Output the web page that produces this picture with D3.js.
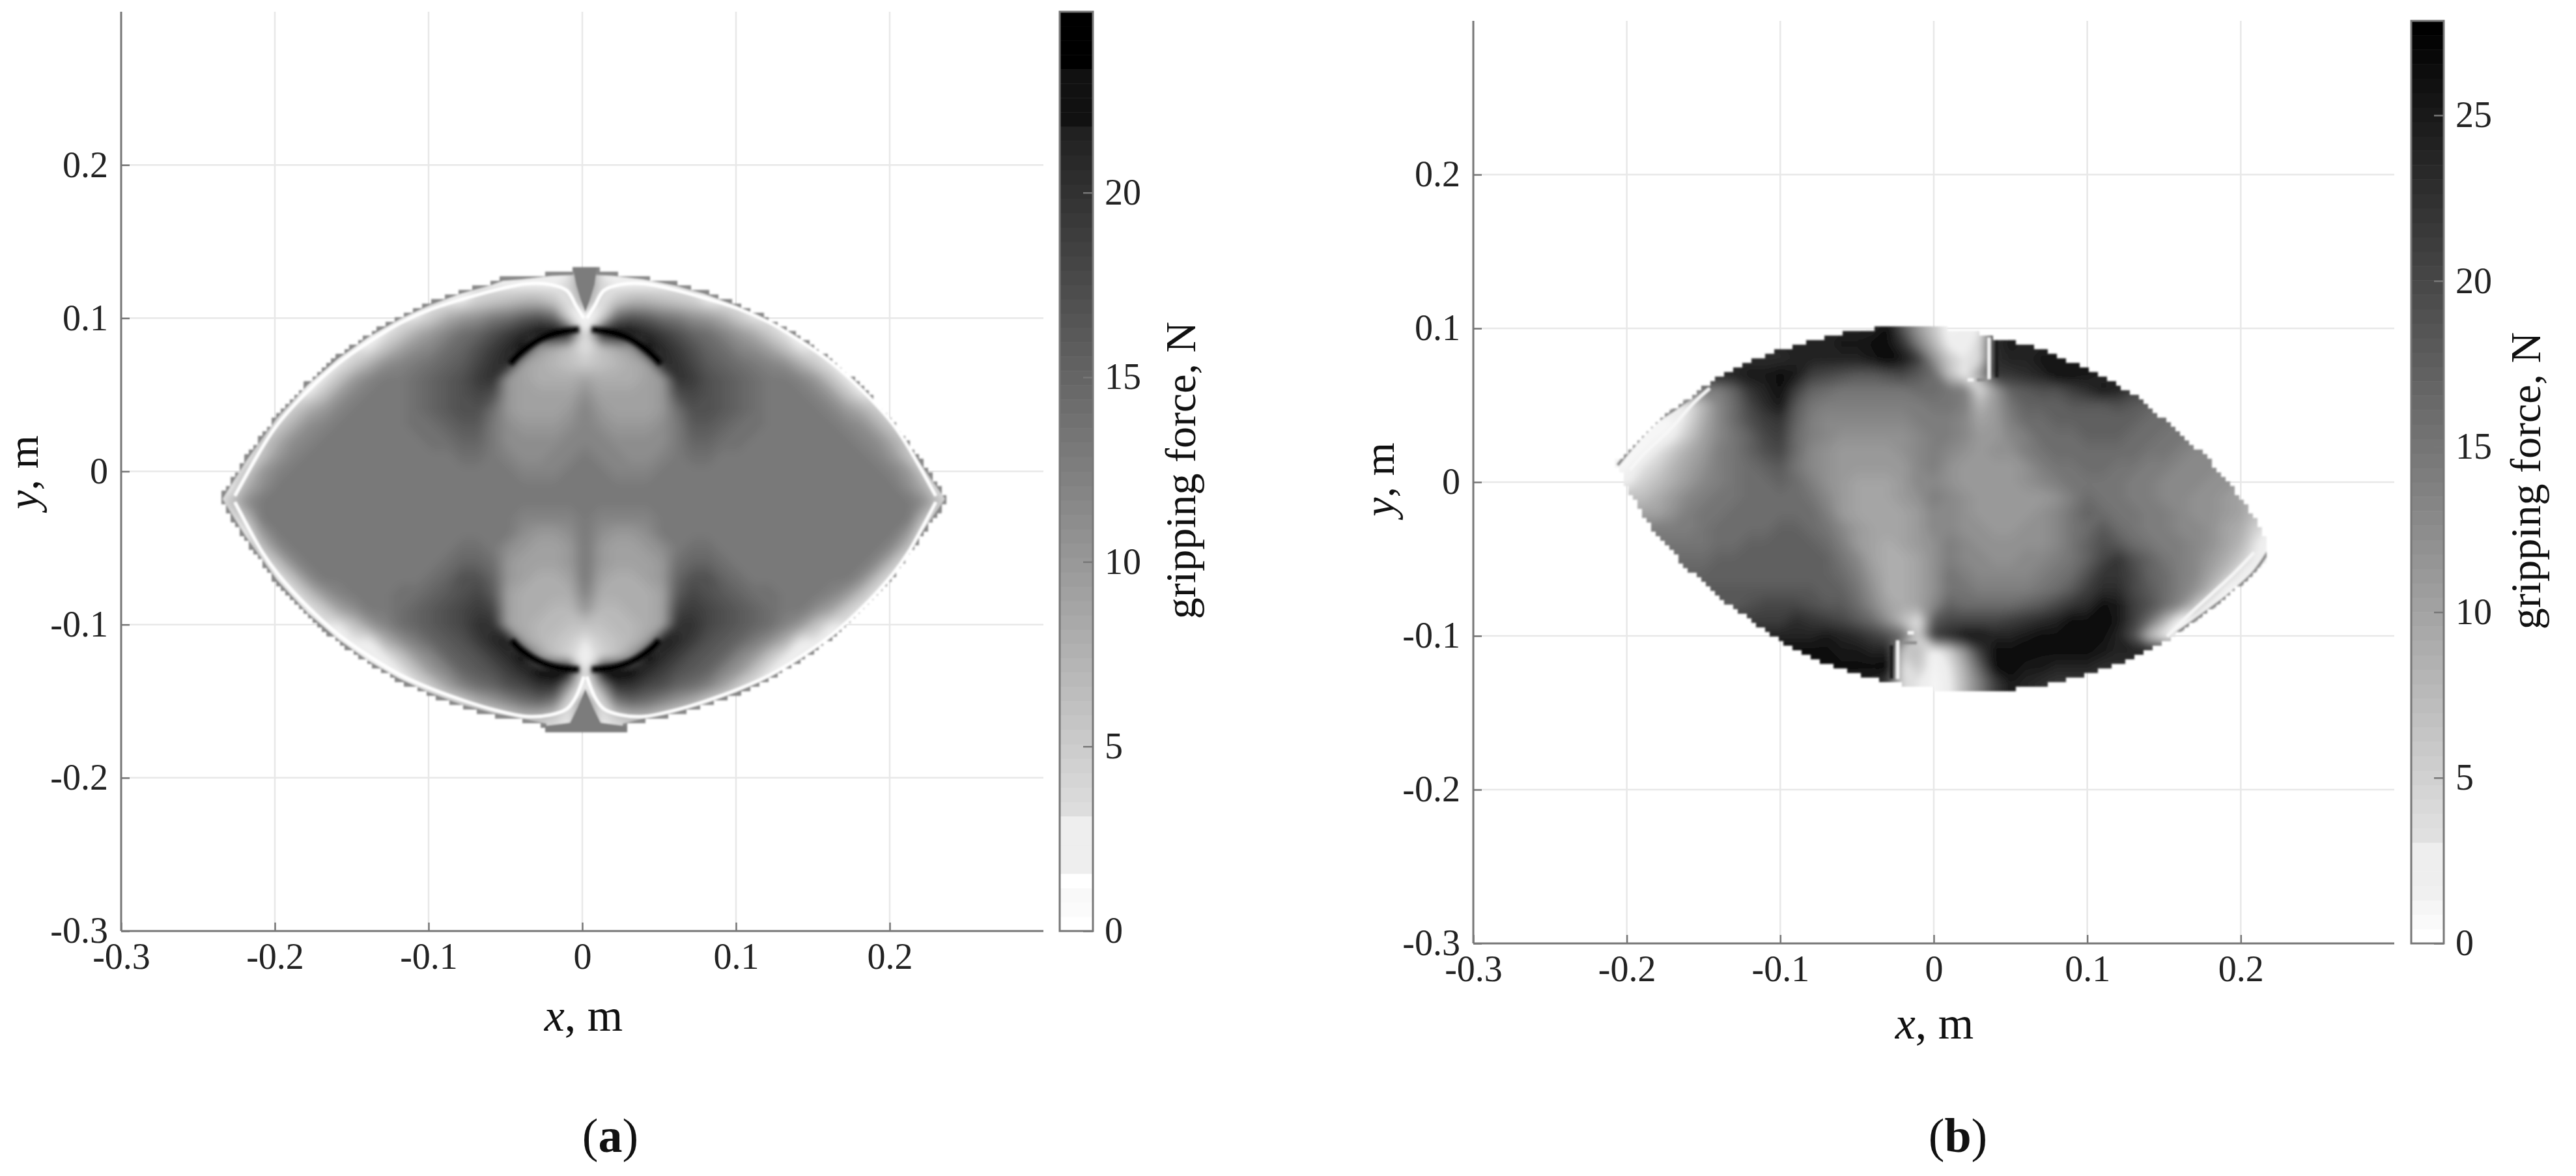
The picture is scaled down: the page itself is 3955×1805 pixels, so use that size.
<!DOCTYPE html>
<html><head><meta charset="utf-8">
<style>html,body{margin:0;padding:0;background:#fff}svg{display:block}</style>
<script src="https://cdnjs.cloudflare.com/ajax/libs/d3/7.8.5/d3.min.js"></script>
</head><body><svg id="c" width="3955" height="1805"></svg>
<script>
// ---------- tick labels ----------
const axisTicks=[-0.3,-0.2,-0.1,0,0.1,0.2];
const axisTickLabels=['-0.3','-0.2','-0.1','0','0.1','0.2'];
const cbarTicksA=[0,5,10,15,20];
const cbarTicksB=[0,5,10,15,20,25];
const maxA=24.9, maxB=27.85;
// ---------- colour bar levels (grey, bottom to top) ----------
const levelsA=[255,251,249,255,238,238,238,238,221,217,213,209,205,201,197,193,189,185,181,177,173,169,165,161,157,153,149,145,141,137,133,129,125,121,117,113,109,105,101,97,93,89,85,81,77,73,69,65,61,57,53,49,45,41,37,33,17,17,17,17,0,0,0,0];
const levelsB=[255,250,246,240,238,238,238,224,221,217,213,209,205,201,197,193,189,185,181,177,173,169,165,161,157,153,149,145,141,137,133,129,125,121,117,113,109,105,101,97,93,89,85,81,77,73,69,65,61,57,53,49,45,41,37,33,29,25,21,17,13,8,4,0];
// ---------- panel (a): force on a 0.01 m grid, x = 0 .. 0.24, y = 0.14 .. -0.18 (left half mirrors) ----------
const forceHalfA=[
[12,3,3,3,3,3,3,3,3,3,3,3,3,3,3,3,3,3,3,3,3,3,3,3,3],
[12,3,3,3,3,3,3,3,3,3,3,3,3,3,3,3,3,3,3,3,3,3,3,3,3],
[12,4,3,3,3,3,3,3,3,3,3,3,3,3,3,3,3,3,3,3,3,3,3,3,3],
[8,3,6,8,8,7,6,5,3,3,3,3,3,3,3,3,3,3,3,3,3,3,3,3,3],
[1,4,15,17,16,14,13,11,10,8,5,3,3,3,3,3,3,3,3,3,3,3,3,3,3],
[2,21,24,23,21,19,17,15,14,12,10,8,5,3,3,3,3,3,3,3,3,3,3,3,3],
[3,6,8,10,23,21,19,17,15,14,12,11,9,6,3,3,3,3,3,3,3,3,3,3,3],
[5,6,7,8,9,21,20,18,16,15,14,13,12,11,8,5,3,3,3,3,3,3,3,3,3],
[9,8,8,8,9,10,20,19,17,16,15,14,13,13,12,10,6,3,3,3,3,3,3,3,3],
[11,9,9,9,9,10,17,18,17,16,15,14,13,13,13,12,10,6,3,3,3,3,3,3,3],
[12,10,9,9,9,10,14,17,17,16,15,14,13,13,13,13,12,10,8,5,3,3,3,3,3],
[12,11,10,10,10,11,13,16,16,15,14,14,13,13,13,13,13,12,11,8,5,3,3,3,3],
[12,12,11,11,11,11,13,15,15,14,14,13,13,13,13,13,13,13,12,11,8,5,3,3,3],
[13,12,12,11,11,12,13,14,14,13,13,13,13,13,13,13,13,13,13,12,10,6,3,3,3],
[13,13,12,12,12,13,13,13,13,13,13,13,13,13,13,13,13,13,13,13,12,10,5,3,3],
[13,13,13,13,13,13,13,13,13,13,13,13,13,13,13,13,13,13,13,13,13,11,8,3,3],
[13,13,13,13,13,13,13,13,13,13,13,13,13,13,13,13,13,13,13,13,13,13,11,6,3],
[13,12,12,12,12,13,13,13,13,13,13,13,13,13,13,13,13,13,13,13,13,13,7,3,3],
[13,11,10,10,11,13,13,13,13,13,13,13,13,13,13,13,13,13,13,13,13,10,3,3,3],
[13,10,9,9,10,11,13,14,14,13,13,13,13,13,13,13,13,13,13,13,11,6,3,3,3],
[13,10,9,9,9,10,14,15,15,14,13,13,13,13,13,13,13,13,13,11,6,3,3,3,3],
[13,9,8,8,9,10,15,17,17,15,14,13,13,13,13,13,13,13,11,6,3,3,3,3,3],
[12,8,8,8,8,9,16,18,17,16,15,14,14,13,13,13,12,10,6,3,3,3,3,3,3],
[10,7,7,8,8,9,18,19,18,17,16,15,14,13,13,11,9,5,3,3,3,3,3,3,3],
[6,6,7,7,8,9,20,20,18,17,16,15,14,12,10,6,3,3,3,3,3,3,3,3,3],
[3,5,6,7,9,22,21,19,17,16,15,13,11,8,3,3,3,3,3,3,3,3,3,3,3],
[2,4,6,10,23,21,19,17,16,15,12,10,6,3,3,3,3,3,3,3,3,3,3,3,3],
[1,23,24,23,21,19,17,16,15,12,10,6,3,3,3,3,3,3,3,3,3,3,3,3,3],
[1,10,20,20,18,17,15,14,12,9,5,3,3,3,3,3,3,3,3,3,3,3,3,3,3],
[10,3,13,15,14,12,10,8,5,3,3,3,3,3,3,3,3,3,3,3,3,3,3,3,3],
[13,3,5,7,7,5,3,3,3,3,3,3,3,3,3,3,3,3,3,3,3,3,3,3,3],
[13,3,3,3,3,3,3,3,3,3,3,3,3,3,3,3,3,3,3,3,3,3,3,3,3],
[13,3,3,3,3,3,3,3,3,3,3,3,3,3,3,3,3,3,3,3,3,3,3,3,3]];
const forceA=forceHalfA.map(r=>[...r.slice(1).reverse(),...r]);
const outlineA=[[-.236,-.018],[-.22,.0077],[-.2,.0356],[-.18,.0573],[-.16,.0747],[-.14,.089],[-.12,.1006],[-.1,.1099],[-.08,.1174],[-.06,.123],[-.052,.126],[-.04,.1269],[-.02,.1293],[-.0075,.1297],[-.0075,.133],[.0107,.133],[.0107,.1297],[.02,.1293],[.04,.1269],[.06,.123],[.08,.1174],[.1,.1099],[.12,.1006],[.14,.089],[.16,.0747],[.18,.0573],[.2,.0356],[.22,.0077],[.238,-.018],[.22,-.0437],[.2,-.0716],[.18,-.0933],[.16,-.1107],[.14,-.125],[.12,-.1366],[.1,-.1459],[.08,-.1534],[.06,-.159],[.04,-.1629],[.028,-.166],[.028,-.169],[-.025,-.169],[-.025,-.166],[-.04,-.1629],[-.06,-.159],[-.08,-.1534],[-.1,-.1459],[-.12,-.1366],[-.14,-.125],[-.16,-.1107],[-.18,-.0933],[-.2,-.0716],[-.22,-.0437]];
const rimTopRightA=[[.23,-.016],[.212,.016],[.202,.031],[.182,.053],[.162,.071],[.142,.085],[.122,.097],[.102,.106],[.08,.113],[.06,.1185],[.04,.1225],[.025,.122],[.014,.118],[.008,.108],[.003,.1]];
const rimTopLeftA=[[-.226,-.016],[-.208,.016],[-.198,.031],[-.178,.053],[-.158,.071],[-.138,.085],[-.118,.097],[-.098,.106],[-.076,.113],[-.056,.1185],[-.036,.1225],[-.021,.122],[-.01,.118],[-.004,.108],[.001,.1]];
const rimBotRightA=[[.23,-.02],[.212,-.053],[.202,-.067],[.182,-.089],[.162,-.107],[.142,-.121],[.122,-.133],[.102,-.142],[.08,-.15],[.06,-.156],[.04,-.16],[.025,-.159],[.014,-.155],[.008,-.147],[.003,-.134]];
const rimBotLeftA=[[-.226,-.02],[-.208,-.053],[-.198,-.067],[-.178,-.089],[-.158,-.107],[-.138,-.121],[-.118,-.133],[-.098,-.142],[-.076,-.15],[-.056,-.156],[-.036,-.16],[-.021,-.159],[-.01,-.155],[-.004,-.147],[.001,-.134]];
const wedgeTopA=[[-.007,.136],[.01,.136],[.008,.122],[.005,.112],[.002,.104],[-.001,.112],[-.004,.122]];
const wedgeBotA=[[-.027,-.172],[.03,-.172],[.03,-.1665],[.012,-.164],[.007,-.154],[.002,-.142],[-.003,-.154],[-.008,-.164],[-.027,-.1665]];
const arcsA=[[[.006,.0927],[.02,.0905],[.032,.086],[.045,.0765],[.051,.07]],[[-.002,.0927],[-.016,.0905],[-.028,.086],[-.041,.0765],[-.047,.07]],[[.006,-.1293],[.02,-.128],[.032,-.124],[.045,-.1155],[.05,-.11]],[[-.002,-.1293],[-.016,-.128],[-.028,-.124],[-.041,-.1155],[-.046,-.11]]];
// ---------- panel (b): force on a 0.01 m grid, x = -0.21 .. 0.22, y = 0.11 .. -0.14 ----------
const forceB=[
[24,24,24,24,24,24,24,24,24,24,24,24,24,24,24,24,24,24,24,18,11,6,1,1,2,20,24,24,24,24,24,24,24,24,24,24,24,24,24,24,24,24,24,24],
[24,24,24,24,24,24,24,24,24,24,24,24,24,24,24,24,24,24,26,18,11,6,1,2,3,20,24,24,24,24,24,24,24,24,24,24,24,24,24,24,24,24,24,24],
[24,24,24,24,24,24,24,24,24,24,24,24,24,24,24,25,25,26,26,22,14,8,2,2,4,23,25,24,24,24,24,24,24,24,24,24,24,24,24,24,24,24,24,24],
[23,23,23,23,23,23,23,23,23,23,23,23,24,24,24,24,24,25,27,25,21,12,6,3,4,23,24,24,25,25,25,25,25,25,25,25,25,25,25,25,25,25,25,25],
[24,24,24,24,24,24,24,24,24,25,25,26,25,21,20,19,18,18,19,20,18,16,7,2,11,22,22,23,24,26,26,25,24,24,24,24,24,24,24,24,24,24,24,24],
[14,14,14,14,14,14,14,14,17,22,24,26,21,17,16,15,15,15,15,15,16,16,15,14,4,11,17,18,19,19,21,23,25,24,21,20,20,20,20,20,20,20,20,20],
[3,3,3,3,3,3,8,13,16,20,23,25,18,15,14,14,14,14,14,14,14,15,15,14,8,11,15,17,17,17,18,18,18,19,18,17,16,16,16,16,16,16,16,16],
[1,1,1,1,1,4,9,13,16,19,21,22,17,14,13,13,13,13,13,13,14,14,14,13,10,11,14,16,16,17,17,17,17,17,17,16,16,15,15,15,15,15,15,15],
[1,1,1,1,2,6,10,13,15,17,20,21,16,14,13,12,12,12,12,12,13,14,14,13,11,11,13,14,16,16,16,17,17,17,16,16,15,15,14,14,14,14,14,14],
[1,1,1,3,6,9,11,14,15,17,19,20,16,13,12,11,11,11,11,12,13,14,13,12,11,12,12,14,15,16,16,16,16,16,16,15,15,14,13,13,13,13,13,13],
[1,1,3,5,8,10,12,14,15,16,17,18,15,13,12,11,11,11,11,11,13,14,12,11,11,11,11,12,14,15,15,16,16,15,15,14,14,13,13,13,12,12,12,12],
[2,2,5,7,9,11,13,14,15,16,16,17,16,14,12,11,10,10,10,11,13,13,12,11,11,11,11,12,13,14,15,15,15,15,14,14,13,13,13,12,12,11,10,10],
[7,7,7,9,11,13,14,15,15,16,16,16,16,15,13,11,10,10,10,11,12,14,13,12,11,11,11,11,11,12,14,16,15,15,14,14,13,13,12,12,11,10,8,8],
[10,10,10,10,12,14,15,15,16,16,16,16,16,16,14,11,10,10,10,10,11,13,13,12,11,11,11,11,12,13,15,17,16,15,15,14,14,13,12,12,11,10,7,7],
[14,14,14,14,14,14,15,16,16,16,16,17,17,16,15,13,11,10,10,10,11,13,13,12,12,11,11,12,12,13,15,16,18,16,15,14,14,13,13,12,10,9,5,2],
[15,15,15,15,15,15,15,16,16,17,17,17,17,17,16,14,11,10,9,10,11,12,14,13,12,12,12,12,12,13,15,17,19,18,16,15,14,14,13,12,10,8,3,1],
[16,16,16,16,16,16,16,17,17,17,17,17,17,17,17,15,13,10,9,9,10,12,14,13,13,12,12,13,13,14,15,17,20,22,19,17,15,14,13,11,9,6,2,1],
[17,17,17,17,17,17,17,17,17,17,17,17,17,17,17,16,14,11,9,9,10,12,15,14,13,13,13,13,14,15,16,19,22,22,20,17,16,14,13,10,7,2,1,1],
[18,18,18,18,18,18,18,18,18,18,18,18,18,18,17,17,15,12,9,9,10,12,15,15,14,14,14,14,15,16,18,21,23,23,20,18,16,14,12,8,1,1,1,1],
[18,18,18,18,18,18,18,18,18,19,20,20,20,19,18,18,16,13,10,9,10,13,17,16,16,16,16,17,18,20,22,23,26,25,21,19,16,13,7,1,1,1,1,1],
[21,21,21,21,21,21,21,21,21,21,21,21,23,22,21,20,18,16,12,7,3,18,20,20,20,20,21,22,23,24,26,26,27,25,21,16,9,1,1,1,1,1,1,1],
[24,24,24,24,24,24,24,24,24,24,24,24,24,24,25,24,23,21,19,16,5,21,23,25,25,24,24,25,26,26,26,27,26,24,19,8,2,1,1,1,1,1,1,1],
[26,26,26,26,26,26,26,26,26,26,26,26,26,26,26,25,25,24,24,6,7,1,5,12,21,26,26,27,26,26,26,26,25,24,24,24,24,24,24,24,24,24,24,24],
[26,26,26,26,26,26,26,26,26,26,26,26,26,26,26,26,26,26,27,3,6,1,3,9,17,26,27,25,25,24,24,24,23,23,23,23,23,23,23,23,23,23,23,23],
[24,24,24,24,24,24,24,24,24,24,24,24,24,24,24,24,24,24,21,4,3,1,2,8,14,21,25,24,23,22,22,22,22,22,22,22,22,22,22,22,22,22,22,22],
[24,24,24,24,24,24,24,24,24,24,24,24,24,24,24,24,24,24,21,4,3,1,2,8,14,21,25,24,23,22,22,22,22,22,22,22,22,22,22,22,22,22,22,22]];
const outlineB=[[-.2074,.0096],[-.2074,.013],[-.196,.023],[-.181,.0389],[-.156,.0574],[-.143,.0666],[-.1297,.0733],[-.1184,.0792],[-.1032,.0851],[-.0824,.0909],[-.0578,.0973],[-.0341,.1002],[.0066,.1002],[.0256,.0977],[.0379,.0943],[.0575,.09],[.0757,.0842],[.0967,.075],[.1195,.0632],[.1356,.0532],[.1567,.0347],[.1762,.018],[.1924,-.0005],[.207,-.0206],[.2127,-.029],[.2183,-.0408],[.2183,-.0483],[.208,-.06],[.191,-.075],[.1746,-.0877],[.158,-.0995],[.147,-.1054],[.1356,-.1112],[.1227,-.1176],[.1057,-.123],[.0846,-.1294],[.0692,-.1327],[.0425,-.1356],[.0076,-.1356],[-.016,-.1327],[-.031,-.1297],[-.056,-.123],[-.0786,-.1146],[-.0975,-.1045],[-.12,-.0894],[-.145,-.071],[-.1657,-.0508],[-.1828,-.0307],[-.196,-.0106],[-.2008,-.0005],[-.2036,.0062]];
const whiteLinesB=[[[-.198,.008],[-.1875,.0196],[-.173,.033],[-.156,.052],[-.146,.061]],[[.2086,-.0458],[.1956,-.0592],[.181,-.0727],[.1665,-.086],[.152,-.1003]],[[.036,.094],[.036,.067]],[[-.0235,-.128],[-.0235,-.103]],[[.022,.0665],[.026,.0665]],[[-.017,-.098],[-.013,-.098]]];
const greyLinesB=[[[-.206,.011],[-.196,.023],[-.181,.039],[-.168,.048],[-.155,.057]],[[.2175,-.0458],[.208,-.0592],[.191,-.0743],[.1754,-.086],[.1575,-.0987]],[[.028,.0665],[.034,.0665]],[[-.021,-.1045],[-.011,-.1045]]];
const darkLinesB=[[[.041,.093],[.041,.068]],[[-.0275,-.128],[-.0275,-.106]]];

const svg=d3.select('#c');
const defs=svg.append('defs');
const blur=(id,s)=>defs.append('filter').attr('id',id).attr('filterUnits','userSpaceOnUse').attr('x',0).attr('y',0).attr('width',3955).attr('height',1805)
  .append('feGaussianBlur').attr('stdDeviation',s);
blur('soft',1.4); blur('field',6); blur('mid',2.6);
const SERIF='"Liberation Serif","Times New Roman",serif';
const grey=g=>`rgb(${g},${g},${g})`;
const fmt=d=>axisTickLabels[axisTicks.indexOf(d)];
const TICK=56, LABEL=66;

function panel(p){
  const x=d3.scaleLinear().domain([-.3,.3]).range([p.left,p.right]);
  const y=d3.scaleLinear().domain([-.3,.3]).range([p.bottom,p.top]);
  const g=svg.append('g');
  // grid
  g.append('g').selectAll('line').data(axisTicks.slice(1)).join('line')
    .attr('x1',d=>x(d)).attr('x2',d=>x(d)).attr('y1',p.top).attr('y2',p.bottom).attr('stroke','#e8e8e8').attr('stroke-width',2.5);
  g.append('g').selectAll('line').data(axisTicks.slice(1)).join('line')
    .attr('y1',d=>y(d)).attr('y2',d=>y(d)).attr('x1',p.left).attr('x2',p.right).attr('stroke','#e8e8e8').attr('stroke-width',2.5);
  // pixel-stepped clip from the outline
  const cell=7;
  const polyPx=p.outline.map(d=>[x(d[0]),y(d[1])]);
  const cols=d3.range(p.left,p.right,cell).map(cx=>{
    const rows=d3.range(p.top,p.bottom,cell).filter(cy=>d3.polygonContains(polyPx,[cx+cell/2,cy+cell/2]));
    return rows.length?{cx,y0:rows[0],y1:rows[rows.length-1]+cell}:null;
  }).filter(Boolean);
  defs.append('clipPath').attr('id','clip'+p.id).selectAll('rect').data(cols).join('rect')
    .attr('x',d=>d.cx).attr('width',cell).attr('y',d=>d.y0).attr('height',d=>d.y1-d.y0);
  const soft=g.append('g').attr('filter','url(#soft)');
  const map=soft.append('g').attr('clip-path',`url(#clip${p.id})`);
  // force field
  const n=p.force[0].length,m=p.force.length;
  const th=d3.range(64).map(i=>i*p.max/64);
  const contours=d3.contours().size([n,m]).thresholds(th)(p.force.flat());
  const path=d3.geoPath(d3.geoTransform({point(a,b){this.stream.point(x(p.x0+(a-.5)*.01),y(p.y0-(b-.5)*.01));}}));
  map.append('g').attr('filter','url(#field)').selectAll('path').data(contours).join('path')
    .attr('d',path).attr('fill',(d,i)=>grey(p.levels[i])).attr('stroke',(d,i)=>grey(p.levels[i])).attr('stroke-width',.6);
  const line=d3.line().x(d=>x(d[0])).y(d=>y(d[1])).curve(d3.curveCatmullRom);
  const stroke=(data,color,w,f)=>map.append('g').attr('filter',f?`url(#${f})`:null).selectAll('path').data(data).join('path')
    .attr('d',line).attr('fill','none').attr('stroke',color).attr('stroke-width',w).attr('stroke-linecap','butt');
  p.draw(map,x,y,line,stroke,polyPx);
  // axes
  const ax=d3.axisBottom(x).tickValues(axisTicks).tickFormat(fmt).tickSize(-13).tickPadding(p.pad);
  const ay=d3.axisLeft(y).tickValues(axisTicks).tickFormat(fmt).tickSize(-13).tickPadding(p.pad2);
  [[ax,`translate(0,${p.bottom})`],[ay,`translate(${p.left},0)`]].forEach(([a,t])=>{
    const e=g.append('g').attr('transform',t).call(a);
    e.select('.domain').remove();
    e.selectAll('line').attr('stroke','#777').attr('stroke-width',2.5);
    e.selectAll('text').attr('font-family',SERIF).attr('font-size',TICK).attr('fill','#222');
  });
  g.append('line').attr('x1',p.left).attr('x2',p.left).attr('y1',p.top).attr('y2',p.bottom).attr('stroke','#777').attr('stroke-width',3);
  g.append('line').attr('x1',p.left).attr('x2',p.right).attr('y1',p.bottom).attr('y2',p.bottom).attr('stroke','#777').attr('stroke-width',3);
  // colour bar
  const cy=d3.scaleLinear().domain([0,p.max]).range([p.bottom,p.top]);
  g.append('g').selectAll('rect').data(p.levels).join('rect')
    .attr('x',p.cb0).attr('width',p.cb1-p.cb0)
    .attr('y',(d,i)=>cy((i+1)*p.max/64)).attr('height',(d,i)=>cy(i*p.max/64)-cy((i+1)*p.max/64)+.5)
    .attr('fill',d=>grey(d));
  g.append('rect').attr('x',p.cb0).attr('y',p.top).attr('width',p.cb1-p.cb0).attr('height',p.bottom-p.top)
    .attr('fill','none').attr('stroke','#777').attr('stroke-width',3);
  const ac=d3.axisRight(cy).tickValues(p.cbt).tickFormat(d3.format('d')).tickSize(-15).tickPadding(p.cpad);
  const ec=g.append('g').attr('transform',`translate(${p.cb1},0)`).call(ac);
  ec.select('.domain').remove();
  ec.selectAll('line').attr('stroke','#777').attr('stroke-width',2.5);
  ec.selectAll('text').attr('font-family',SERIF).attr('font-size',TICK).attr('fill','#222');
  // labels
  const lab=(tx,ty,rot,parts,size)=>{
    const t=g.append('text').attr('text-anchor','middle').attr('font-family',SERIF).attr('font-size',size).attr('fill','#111')
      .attr('transform',`translate(${tx},${ty}) rotate(${rot})`);
    parts.forEach(q=>t.append('tspan').attr('font-style',q[1]?'italic':null).attr('font-weight',q[2]?'bold':null).text(q[0]));
  };
  lab(p.xl[0],p.xl[1],0,[['x',1],[', m',0]],70);
  lab(p.yl[0],p.yl[1],-90,[['y',1],[', m',0]],LABEL);
  lab(p.cl[0],p.cl[1],-90,[['gripping force, N',0]],LABEL);
  lab(p.cap[0],p.cap[1],0,[['(',0],[p.capText,0,1],[')',0]],74);
}

panel({id:'A',capText:'a',left:186,right:1602,top:18,bottom:1429,max:maxA,force:forceA,levels:levelsA,outline:outlineA,
  x0:-.238,y0:.14,cb0:1627,cb1:1678,cbt:cbarTicksA,pad:18,pad2:20,cpad:18,
  xl:[896,1582],yl:[58,725],cl:[1835,722],cap:[937,1768],
  draw(map,x,y,line,stroke,polyPx){
    map.append('path').attr('d','M'+polyPx.join('L')+'Z').attr('fill','none').attr('stroke','#868686').attr('stroke-width',8);
    stroke([rimTopRightA,rimTopLeftA,rimBotRightA,rimBotLeftA],'#fff',5);
    map.append('g').selectAll('path').data([wedgeTopA,wedgeBotA]).join('path')
      .attr('d',d=>'M'+d.map(q=>[x(q[0]),y(q[1])]).join('L')+'Z').attr('fill','#7c7c7c');
    stroke(arcsA,'#000',10,'mid');
  }});
panel({id:'B',capText:'b',left:2262,right:3676,top:32,bottom:1448,max:maxB,force:forceB,levels:levelsB,outline:outlineB,
  x0:-.21,y0:.11,cb0:3702,cb1:3752,cbt:cbarTicksB,pad:18,pad2:20,cpad:18,
  xl:[2970,1594],yl:[2140,736],cl:[3900,738],cap:[3006,1768],
  draw(map,x,y,line,stroke){
    stroke(darkLinesB,'#1c1c1c',6);
    stroke(greyLinesB,'#8c8c8c',5);
    stroke(whiteLinesB,'#f6f6f6',5);
  }});
</script></body></html>
